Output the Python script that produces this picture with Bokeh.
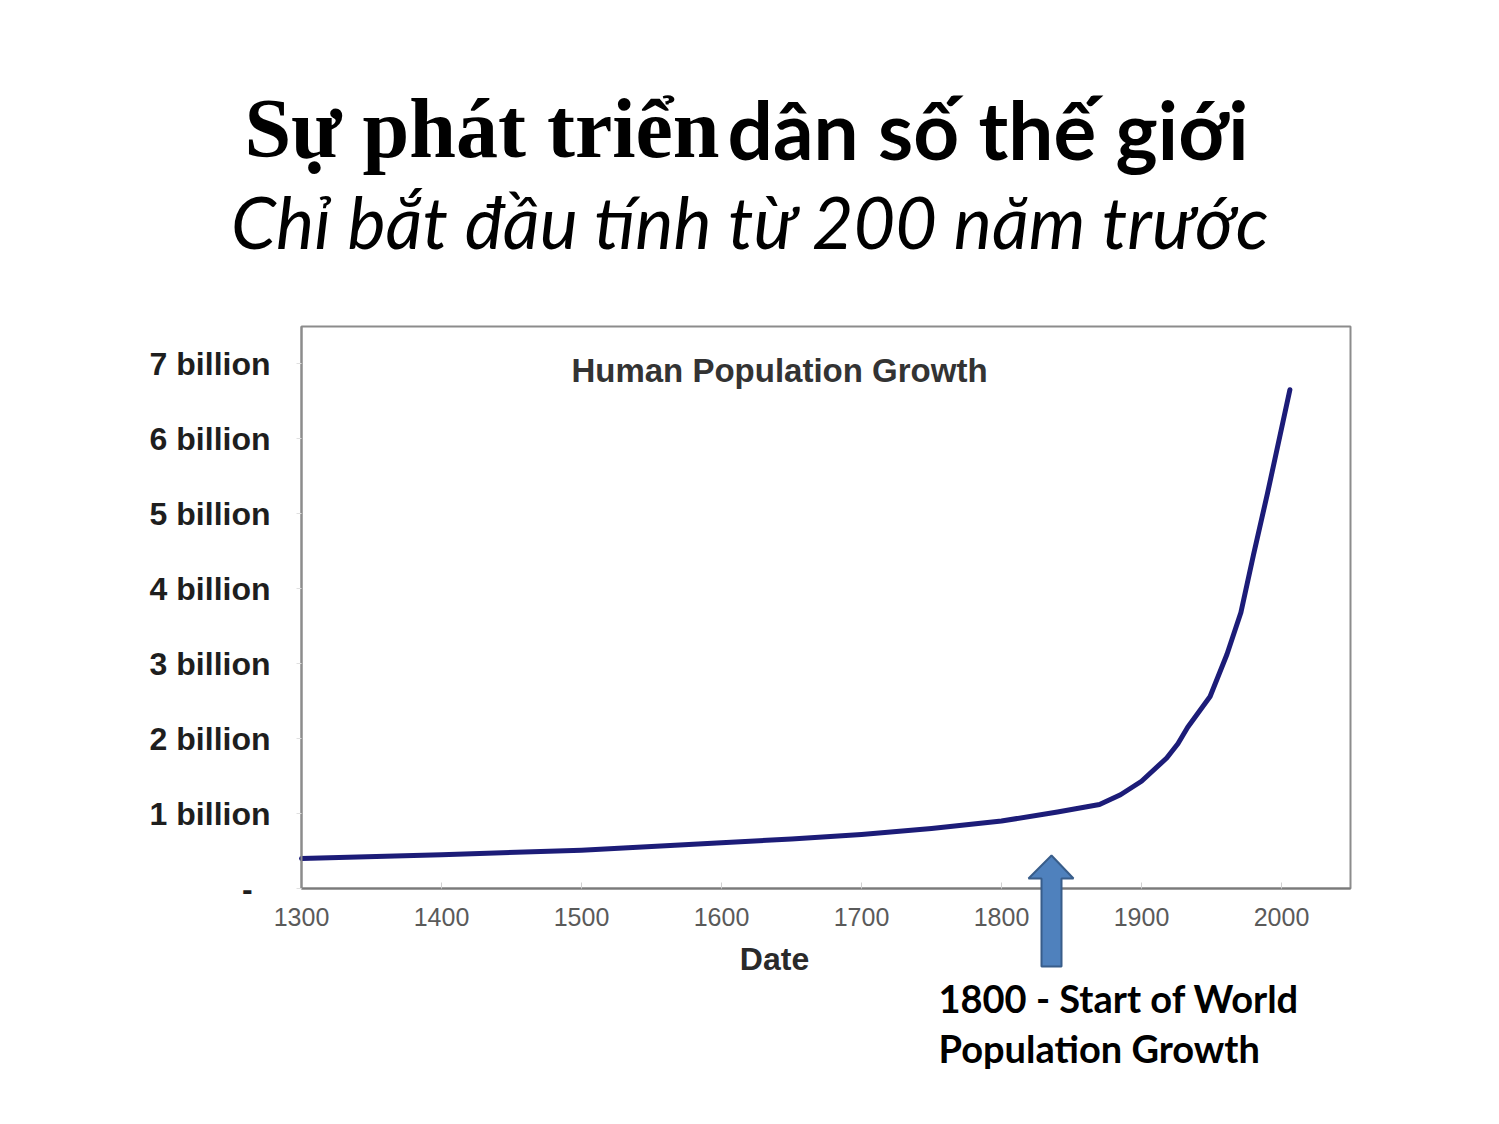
from bokeh.plotting import figure
from bokeh.models import Range1d, Label, PolyAnnotation, FixedTicker, LinearAxis, BoxAnnotation
from bokeh.embed import file_html
from bokeh.resources import INLINE

# ---- data ----
years = [1300, 1400, 1500, 1600, 1650, 1700, 1750, 1800, 1840, 1870, 1885,
         1900, 1918, 1926, 1933, 1949, 1961, 1971, 1980, 1990, 2006]
population_billion = [0.40, 0.45, 0.51, 0.61, 0.66, 0.72, 0.80, 0.90, 1.02, 1.12, 1.25,
                      1.43, 1.74, 1.93, 2.15, 2.56, 3.12, 3.68, 4.45, 5.27, 6.65]
x_ticks = [1300, 1400, 1500, 1600, 1700, 1800, 1900, 2000]
y_ticks = [0, 1, 2, 3, 4, 5, 6, 7]
y_tick_labels = ["-\u00a0\u00a0", "1 billion", "2 billion", "3 billion", "4 billion",
                 "5 billion", "6 billion", "7 billion"]

title_serif = "Sự phát triển"
title_sans = "dân số thế giới"
subtitle = "Chỉ bắt đầu tính từ 200 năm trước"
chart_title = "Human Population Growth"
x_label = "Date"
note_lines = ["1800 - Start of World", "Population Growth"]

# ---- layout (page pixels -> data) ----
W, H = 1499, 1124
FL, FR, FT, FB = 301, 1350, 326, 888
X0 = 1300
XS = 1.4     # px per year
YS = 75.0    # px per billion

def dx(px):
    return X0 + (px - FL) / XS

def dy(py):
    return (FB - py) / YS

def base(py, fs):
    # place an alphabetic baseline at page row py for a font of size fs
    return dy(py - 0.38 * fs)

x_end = dx(FR)
y_end = dy(FT)

p = figure(width=W, height=H, x_range=Range1d(dx(0), dx(W)), y_range=Range1d(dy(H), dy(0)),
           output_backend="svg", toolbar_location=None, title=None,
           x_axis_location=None, y_axis_location=None,
           min_border_left=0, min_border_right=0, min_border_top=0, min_border_bottom=0)
p.background_fill_color = "white"
p.border_fill_color = "white"
p.outline_line_color = None
p.grid.visible = False

# chart frame
p.add_layout(BoxAnnotation(left=X0, right=x_end, bottom=0, top=y_end, fill_alpha=0,
                           line_color="#8c8c8c", line_alpha=1.0, line_width=2,
                           level="underlay"))

p.line(years, population_billion, line_color="#1c1c78", line_width=5,
       line_join="round", line_cap="round")

# x axis
xa = LinearAxis(fixed_location=0, bounds=(X0, x_end))
xa.ticker = FixedTicker(ticks=x_ticks)
xa.axis_line_color = "#7a7a7a"
xa.axis_line_width = 2
xa.major_tick_in = 6
xa.major_tick_out = 0
xa.major_tick_line_color = "#d0d0d0"
xa.minor_tick_line_color = None
xa.major_label_text_font = "Liberation Sans"
xa.major_label_text_font_size = "25px"
xa.major_label_text_color = "#5a5a5a"
xa.major_label_standoff = 19
p.add_layout(xa, "below")

# y axis
ya = LinearAxis(fixed_location=X0, bounds=(0, y_end))
ya.ticker = FixedTicker(ticks=y_ticks)
ya.major_label_overrides = {t: s for t, s in zip(y_ticks, y_tick_labels)}
ya.axis_line_color = "#8c8c8c"
ya.axis_line_width = 2
ya.major_tick_in = 0
ya.major_tick_out = 5
ya.major_tick_line_color = "#e0e0e0"
ya.minor_tick_line_color = None
ya.major_label_text_font = "Liberation Sans"
ya.major_label_text_font_style = "bold"
ya.major_label_text_font_size = "32px"
ya.major_label_text_color = "#1e1e1e"
ya.major_label_standoff = 26
p.add_layout(ya, "left")

# axis title
p.add_layout(Label(x=dx(774), y=dy(958), text=x_label, text_align="center",
                   text_baseline="middle", text_font="Liberation Sans",
                   text_font_style="bold", text_font_size="32px", text_color="#2a2a2a"))

# chart title inside frame
p.add_layout(Label(x=dx(779), y=dy(370), text=chart_title, text_align="center",
                   text_baseline="middle", text_font="Liberation Sans",
                   text_font_style="bold", text_font_size="33px", text_color="#333333"))

# slide title
p.add_layout(Label(x=dx(719), y=base(160, 84), text=title_serif, text_align="right",
                   text_baseline="alphabetic", text_font="Liberation Serif",
                   text_font_style="bold", text_font_size="84px", text_color="black"))
p.add_layout(Label(x=dx(727), y=base(160, 84), text=title_sans, text_align="left",
                   text_baseline="alphabetic", text_font="Lato",
                   text_font_style="bold", text_font_size="80px", text_color="black"))
p.add_layout(Label(x=dx(751), y=base(248, 72), text=subtitle, text_align="center",
                   text_baseline="alphabetic", text_font="Lato",
                   text_font_style="italic", text_font_size="72px", text_color="black"))

# arrow
arrow_px = [(1051, 855), (1073, 878), (1061, 878), (1061, 966), (1041, 966), (1041, 878), (1028, 878)]
p.add_layout(PolyAnnotation(xs=[dx(a) for a, b in arrow_px], ys=[dy(b) for a, b in arrow_px],
                            fill_color="#4f81bd", fill_alpha=1.0, line_color="#385d8a",
                            line_alpha=1.0, line_width=2))

for i, line in enumerate(note_lines):
    p.add_layout(Label(x=dx(938), y=base(1012 + 50 * i, 38), text=line, text_align="left",
                       text_baseline="alphabetic", text_font="Lato",
                       text_font_style="bold", text_font_size="38px", text_color="black"))

open("out.html", "w").write(file_html(p, INLINE))
